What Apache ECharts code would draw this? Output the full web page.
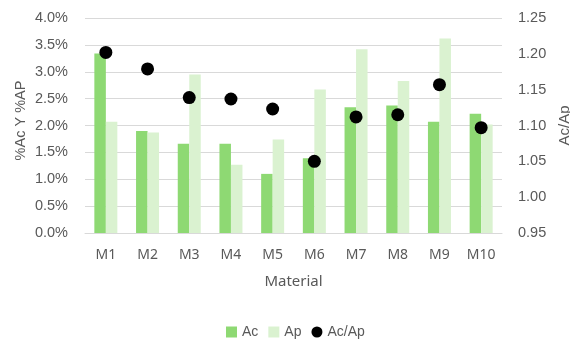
<!DOCTYPE html>
<html>
<head>
<meta charset="utf-8">
<script src="https://cdn.jsdelivr.net/npm/echarts@6/dist/echarts.min.js"></script>
<style>
  html, body { margin: 0; padding: 0; background: #fff; }
  #chart { width: 570px; height: 342px; }
</style>
</head>
<body>
<div id="chart"></div>
<script>
// Materials on the category axis
const materials = ['M1', 'M2', 'M3', 'M4', 'M5', 'M6', 'M7', 'M8', 'M9', 'M10'];
// Percent Ac and Ap per material (left axis, %)
const acPct = [3.34, 1.90, 1.66, 1.66, 1.10, 1.39, 2.34, 2.37, 2.07, 2.22];
const apPct = [2.07, 1.87, 2.95, 1.27, 1.74, 2.67, 3.42, 2.83, 3.62, 2.02];
// Ac/Ap ratio (right axis)
const ratio = [1.202, 1.179, 1.139, 1.137, 1.123, 1.050, 1.112, 1.115, 1.157, 1.097];

const numFont = 'Liberation Sans, Arial, sans-serif';
const catFont = 'Noto Sans, sans-serif';
const textGray = '#595959';

const chart = echarts.init(document.getElementById('chart'), null, { renderer: 'canvas' });
chart.setOption({
  animation: false,
  grid: { left: 85, right: 68, top: 18, bottom: 109, outerBoundsMode: 'none', containLabel: false },
  legend: {
    top: 320,
    left: 221,
    itemWidth: 11,
    itemHeight: 11,
    itemGap: 10,
    textStyle: { fontFamily: numFont, fontSize: 14, color: textGray },
    data: [
      { name: 'Ac', icon: 'rect' },
      { name: 'Ap', icon: 'rect' },
      { name: 'Ac/Ap', icon: 'circle' }
    ]
  },
  xAxis: {
    type: 'category',
    data: materials,
    name: 'Material',
    nameLocation: 'middle',
    nameGap: 41,
    nameTextStyle: { fontFamily: catFont, fontSize: 15, color: textGray },
    axisLine: { show: true, lineStyle: { color: '#d9d9d9', width: 1 } },
    axisTick: { show: false },
    axisLabel: { fontFamily: catFont, fontSize: 14, color: textGray, margin: 15 }
  },
  yAxis: [
    {
      type: 'value',
      min: 0,
      max: 4,
      interval: 0.5,
      name: '%Ac Y %AP',
      nameLocation: 'middle',
      nameGap: 57,
      nameMoveOverlap: false,
      nameTextStyle: { fontFamily: numFont, fontSize: 14.5, color: textGray, padding: [0, 0, 0, 10] },
      axisLine: { show: false },
      axisTick: { show: false },
      axisLabel: {
        fontFamily: numFont, fontSize: 14.5, color: textGray, margin: 17,
        formatter: v => v.toFixed(1) + '%'
      },
      splitLine: { lineStyle: { color: '#d9d9d9', width: 1 } }
    },
    {
      type: 'value',
      min: 0.95,
      max: 1.25,
      interval: 0.05,
      name: 'Ac/Ap',
      nameLocation: 'middle',
      nameGap: 53,
      nameRotate: 90,
      nameTextStyle: { fontFamily: numFont, fontSize: 15, color: textGray },
      axisLine: { show: false },
      axisTick: { show: false },
      axisLabel: {
        fontFamily: numFont, fontSize: 14.5, color: textGray, margin: 16,
        formatter: v => v.toFixed(2)
      },
      splitLine: { show: false }
    }
  ],
  series: [
    {
      name: 'Ac', type: 'bar', data: acPct, yAxisIndex: 0,
      barWidth: 11.5, barGap: '0%',
      itemStyle: { color: '#8ED973' }
    },
    {
      name: 'Ap', type: 'bar', data: apPct, yAxisIndex: 0,
      barWidth: 11.5, barGap: '0%',
      itemStyle: { color: '#DAF2D0' }
    },
    {
      name: 'Ac/Ap', type: 'scatter', data: ratio, yAxisIndex: 1,
      symbol: 'circle', symbolSize: 13,
      itemStyle: { color: '#000000', opacity: 1 },
      z: 5
    }
  ]
});
</script>
</body>
</html>
